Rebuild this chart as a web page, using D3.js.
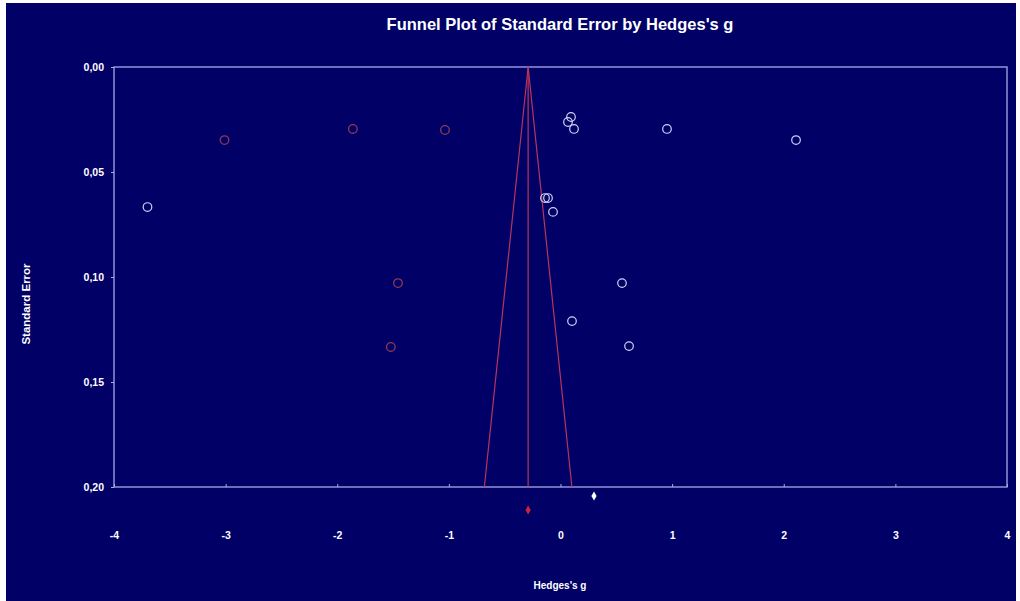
<!DOCTYPE html>
<html>
<head>
<meta charset="utf-8">
<script src="https://cdn.jsdelivr.net/npm/d3@7"></script>
<style>
  html, body { margin: 0; padding: 0; background: #fff; }
  svg { display: block; }
  text { font-family: "Liberation Sans", Arial, sans-serif; font-weight: bold; fill: #fff; }
</style>
</head>
<body>
<svg id="chart" width="1020" height="601"></svg>
<script>
// observed studies (white) and trim-and-fill imputed studies (red)
const observedG  = [-3.70, 0.094, 0.067, 0.121, 0.954, 2.11, -0.139, -0.112, -0.067, 0.551, 0.103, 0.614];
const observedSE = [0.0667, 0.0238, 0.0262, 0.0295, 0.0295, 0.0348, 0.0624, 0.0624, 0.069, 0.1029, 0.121, 0.1329];
const imputedG   = [-3.01, -1.86, -1.035, -1.456, -1.52];
const imputedSE  = [0.0348, 0.0295, 0.030, 0.1029, 0.1333];

const observedMean = 0.30;
const adjustedMean = -0.29;
const maxSE = 0.20;

const xTicks = [-4, -3, -2, -1, 0, 1, 2, 3, 4];
const yTicks = [0, 0.05, 0.10, 0.15, 0.20];

const W = 1020, H = 601;
const margin = { left: 114, right: 13, top: 67, bottom: 114 };
const bg = '#000066';

const svg = d3.select('#chart');
svg.append('rect').attr('x', 6).attr('y', 3).attr('width', W - 10).attr('height', H - 3).attr('fill', bg);

const x = d3.scaleLinear().domain([-4, 4]).range([margin.left, W - margin.right]);
const y = d3.scaleLinear().domain([0, maxSE]).range([margin.top, H - margin.bottom]);

const frameColor = '#a8a8e8';
svg.append('rect')
  .attr('x', x(-4)).attr('y', y(0))
  .attr('width', x(4) - x(-4)).attr('height', y(maxSE) - y(0))
  .attr('fill', 'none').attr('stroke', frameColor).attr('stroke-width', 1.3);

const fmt = d => d3.format('.2f')(d).replace('.', ',');

const yAxis = svg.append('g').attr('transform', `translate(${x(-4)},0)`)
  .call(d3.axisLeft(y).tickValues(yTicks).tickFormat(fmt).tickSize(3).tickPadding(7));
yAxis.select('.domain').remove();
yAxis.selectAll('line').attr('stroke', frameColor);
yAxis.selectAll('text').attr('fill', '#fff').style('font-size', '10.5px').style('font-family', '"Liberation Sans", Arial, sans-serif').style('font-weight', 'bold');

const xAxis = svg.append('g').attr('transform', `translate(0,${y(maxSE)})`)
  .call(d3.axisBottom(x).tickValues(xTicks).tickFormat(d => d < 0 ? '-' + Math.abs(d) : d).tickSize(-3).tickPadding(45));
xAxis.select('.domain').remove();
xAxis.selectAll('line').attr('stroke', frameColor);
xAxis.selectAll('text').attr('fill', '#fff').style('font-size', '10.5px').style('font-family', '"Liberation Sans", Arial, sans-serif').style('font-weight', 'bold');

// funnel
const funnelColor = '#b8355a';
const plot = svg.append('g');
plot.append('line')
  .attr('x1', x(adjustedMean)).attr('x2', x(adjustedMean))
  .attr('y1', y(0)).attr('y2', y(maxSE))
  .attr('stroke', funnelColor).attr('stroke-width', 1.2);
const funnel = [
  [[adjustedMean, 0], [adjustedMean - 1.96 * maxSE, maxSE]],
  [[adjustedMean, 0], [adjustedMean + 1.96 * maxSE, maxSE]]
];
plot.selectAll('path.funnel').data(funnel).join('path')
  .attr('class', 'funnel')
  .attr('d', d3.line().x(d => x(d[0])).y(d => y(d[1])))
  .attr('fill', 'none').attr('stroke', funnelColor).attr('stroke-width', 1.2);

// points
const observed = observedG.map((g, i) => ({ g, se: observedSE[i] }));
const imputed = imputedG.map((g, i) => ({ g, se: imputedSE[i] }));

plot.selectAll('circle.obs').data(observed).join('circle')
  .attr('class', 'obs')
  .attr('cx', d => x(d.g)).attr('cy', d => y(d.se)).attr('r', 4.3)
  .attr('fill', 'none').attr('stroke', '#d0d0f2').attr('stroke-width', 1.2);

plot.selectAll('circle.imp').data(imputed).join('circle')
  .attr('class', 'imp')
  .attr('cx', d => x(d.g)).attr('cy', d => y(d.se)).attr('r', 4.3)
  .attr('fill', 'none').attr('stroke', '#8e3a58').attr('stroke-width', 1.3);

// combined estimates below the axis
const diamond = (cx, cy, w, h) => `M${cx},${cy - h}L${cx + w},${cy}L${cx},${cy + h}L${cx - w},${cy}Z`;
svg.append('path').attr('d', diamond(x(observedMean), y(maxSE) + 9, 2.6, 4.5)).attr('fill', '#fff');
svg.append('path').attr('d', diamond(x(adjustedMean), y(maxSE) + 23, 2.6, 4.5)).attr('fill', '#d0203a');

// titles
svg.append('text').attr('x', 560).attr('y', 30).attr('text-anchor', 'middle')
  .style('font-size', '16.5px').text("Funnel Plot of Standard Error by Hedges's g");
svg.append('text').attr('transform', 'translate(30,304) rotate(-90)').attr('text-anchor', 'middle')
  .style('font-size', '11.5px').text('Standard Error');
svg.append('text').attr('x', 560).attr('y', 589).attr('text-anchor', 'middle')
  .style('font-size', '10px').text("Hedges's g");
</script>
</body>
</html>
